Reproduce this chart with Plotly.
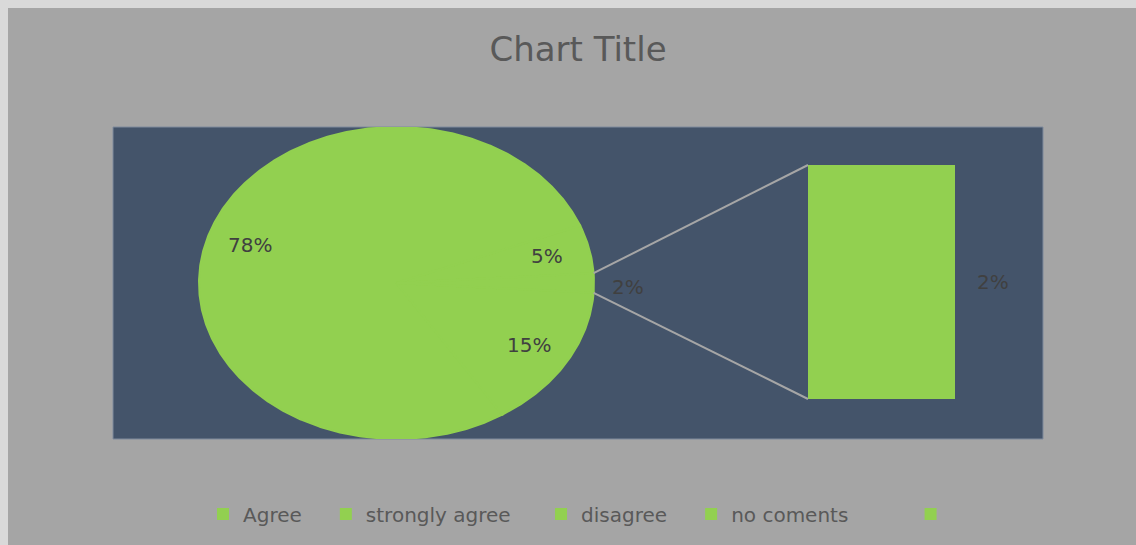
import math
import plotly.graph_objects as go

# ---------------- data ----------------
legend_labels = ["Agree", "strongly agree", "disagree", "no coments", ""]
pie_categories = ["Agree", "strongly agree", "disagree"]
pie_values = [78, 15, 5]
bar_categories = ["no coments"]
bar_values = [2]

# ---------------- style ----------------
GREEN = "#92D050"
NAVY = "#44546A"
GRAY = "#A5A5A5"
LINE = "#A6A6A6"
TXT = "#404040"
FONT = "DejaVu Sans"
NB = "\u00a0"
legend_pad = [3, 4, 3, 9, 0]  # visual spacing between legend entries

# plot-area units are pixels (930 x 312)
PW, PH = 930, 312
cx, cy, rx, ry = 283.5, 156.0, 197.5, 156.0
bar_x0, bar_x1, bar_y0, bar_y1 = 695, 842, 40, 274

other_value = sum(bar_values)
total = sum(pie_values) + other_value
# counter-clockwise order after the split-off slice (which is centred at 3 o'clock)
ccw_order = ["disagree", "Agree", "strongly agree"]

fig = go.Figure()


def slice_poly(a0, a1):
    n = max(4, int(abs(a1 - a0) / 0.5))
    xs, ys = [cx], [cy]
    for i in range(n + 1):
        a = math.radians(a0 + (a1 - a0) * i / n)
        xs.append(cx + rx * math.cos(a))
        ys.append(cy + ry * math.sin(a))
    xs.append(cx)
    ys.append(cy)
    return xs, ys


annotations = []
half_other = other_value / total * 360 / 2
start = half_other
for name in ccw_order:
    v = pie_values[pie_categories.index(name)]
    span = v / total * 360
    xs, ys = slice_poly(start, start + span)
    fig.add_trace(go.Scatter(x=xs, y=ys, mode="lines", fill="toself",
                             fillcolor=GREEN, line=dict(color=GREEN, width=2),
                             hoverinfo="skip", showlegend=False))
    mid = math.radians(start + span / 2)
    annotations.append(dict(x=cx + 0.78 * rx * math.cos(mid), y=cy + 0.78 * ry * math.sin(mid),
                            xref="x", yref="y", text=f"{v}%", showarrow=False,
                            font=dict(family=FONT, size=20, color=TXT)))
    start += span

# split-off slice
xs, ys = slice_poly(-half_other, half_other)
fig.add_trace(go.Scatter(x=xs, y=ys, mode="lines", fill="toself",
                         fillcolor=GREEN, line=dict(color=GREEN, width=2),
                         hoverinfo="skip", showlegend=False))
annotations.append(dict(x=cx + 1.17 * rx, y=cy, xref="x", yref="y", yshift=-4,
                        text=f"{other_value}%", showarrow=False,
                        font=dict(family=FONT, size=20, color=TXT)))

# connector lines
for sgn, by in ((1, bar_y1), (-1, bar_y0)):
    a = math.radians(sgn * half_other)
    fig.add_trace(go.Scatter(x=[cx + rx * math.cos(a), bar_x0], y=[cy + ry * math.sin(a), by],
                             mode="lines", line=dict(color=LINE, width=2),
                             hoverinfo="skip", showlegend=False))

# bar of the split-off values
base = 0
for name, v in zip(bar_categories, bar_values):
    fig.add_trace(go.Bar(x=[0], y=[v], base=[base], width=1, xaxis="x2", yaxis="y2",
                         marker=dict(color=GREEN, line=dict(width=0)),
                         hoverinfo="skip", showlegend=False))
    annotations.append(dict(x=0.5, y=base + v / 2, xref="x2", yref="y2", xanchor="left",
                            xshift=20, text=f"{v}%", showarrow=False,
                            font=dict(family=FONT, size=20, color=TXT)))
    base += v

# legend entries
for lab, pad in zip(legend_labels, legend_pad):
    fig.add_trace(go.Scatter(x=[None], y=[None], mode="markers",
                             name=(lab if lab else " ") + NB * pad,
                             marker=dict(symbol="square", size=12, color=GREEN)))

W, H = 1136, 545
fig.update_layout(
    width=W, height=H,
    margin=dict(l=105, r=W - 105 - PW, t=119, b=H - 119 - PH),
    paper_bgcolor=GRAY, plot_bgcolor=NAVY,
    title=dict(text="Chart Title", x=0.5, xref="paper", xanchor="center",
               y=1 - 41 / H, yref="container", yanchor="middle",
               font=dict(family=FONT, size=34, color="#595959")),
    xaxis=dict(range=[0, PW], visible=False, fixedrange=True),
    yaxis=dict(range=[0, PH], visible=False, fixedrange=True),
    xaxis2=dict(range=[-0.5, 0.5], domain=[bar_x0 / PW, bar_x1 / PW], anchor="y2",
                visible=False, fixedrange=True),
    yaxis2=dict(range=[0, other_value], domain=[bar_y0 / PH, bar_y1 / PH], anchor="x2",
                visible=False, fixedrange=True),
    bargap=0,
    showlegend=True,
    legend=dict(orientation="h", x=90 / PW, xanchor="left", y=-75 / PH, yanchor="middle",
                bgcolor="rgba(0,0,0,0)", font=dict(family=FONT, size=20, color="#595959"),
                itemclick=False, itemdoubleclick=False),
    shapes=[dict(type="rect", xref="paper", yref="paper", x0=0, x1=1, y0=0, y1=1,
                 line=dict(color="#7E8A9C", width=1), layer="below")],
    annotations=annotations,
)

page_js = (
    "document.documentElement.style.background='#D9D9D9';"
    "document.documentElement.style.overflow='hidden';"
    "document.body.style.margin='8px 0 0 8px';"
    "document.body.style.background='" + GRAY + "';"
    "document.body.style.overflow='hidden';"
)
fig.write_html("out.html", post_script=page_js)
